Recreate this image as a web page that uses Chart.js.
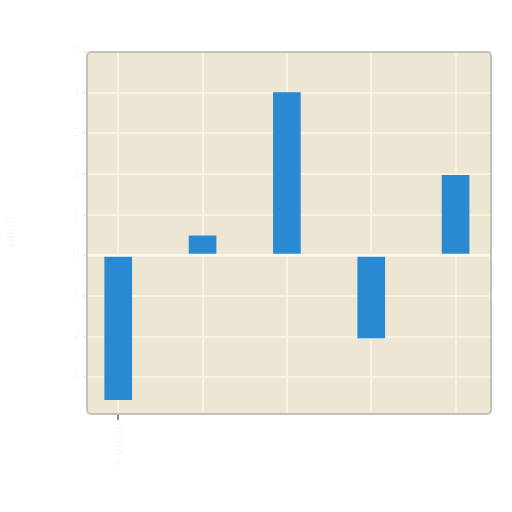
<!DOCTYPE html>
<html lang="en">
<head>
    <meta charset="UTF-8">
    <title>Bar chart</title>
    <script src="https://cdn.jsdelivr.net/npm/chart.js"></script>
    <style>
        html, body { margin: 0; padding: 0; background: #fff; }
        #wrap { width: 512px; height: 512px; }
    </style>
</head>
<body>
    <div id="wrap"><canvas id="chart" width="512" height="512"></canvas></div>

    <script>
        // Data
        const categories = ['A', 'B', 'C', 'D', 'E'];
        const values = [-3.55, 0.48, 4.0, -2.03, 1.97];
        const yTicks = [-3, -2, -1, 0, 1, 2, 3, 4, 5];

        const panelBg = '#ece6d3';
        const gridCol = '#f8f3e3';
        const barCol = '#2a89d3';
        const faintText = '#f7f7f7';

        // panel background + rounded border
        const panel = {
            id: 'panel',
            beforeDraw(chart) {
                const a = chart.chartArea, c = chart.ctx;
                c.save();
                c.beginPath();
                c.roundRect(a.left, a.top, a.right - a.left, a.bottom - a.top, 4);
                c.fillStyle = panelBg;
                c.fill();
                c.restore();
            },
            afterDatasetsDraw(chart) {
                const a = chart.chartArea, c = chart.ctx;
                const y0 = chart.scales.y.getPixelForValue(0);
                c.save();
                // zero line on top of bars
                c.strokeStyle = '#fbf8ee';
                c.lineWidth = 3;
                c.beginPath();
                c.moveTo(a.left, y0);
                c.lineTo(a.right, y0);
                c.stroke();
                c.beginPath();
                c.roundRect(a.left, a.top, a.right - a.left, a.bottom - a.top, 4);
                c.strokeStyle = '#c3c1bb';
                c.lineWidth = 2;
                c.stroke();
                c.restore();
            }
        };

        new Chart(document.getElementById('chart'), {
            type: 'bar',
            data: {
                datasets: [{
                    data: values.map((v, i) => ({ x: i, y: v })),
                    backgroundColor: barCol,
                    borderWidth: 0,
                    barThickness: 27
                }]
            },
            options: {
                responsive: false,
                animation: false,
                layout: { padding: { top: 52, right: 21, left: 0, bottom: 0 } },
                plugins: { legend: { display: false }, tooltip: { enabled: false } },
                scales: {
                    x: {
                        type: 'linear',
                        offset: false,
                        min: -0.37,
                        max: 4.42,
                        afterBuildTicks: s => { s.ticks = categories.map((c, i) => ({ value: i })); },
                        afterFit: s => { s.height = 98; },
                        border: { display: false },
                        grid: {
                            offset: false,
                            color: gridCol,
                            lineWidth: 2,
                            drawTicks: true,
                            tickLength: 6,
                            tickColor: ctx => ctx.index === 0 ? '#8a8a8a' : 'rgba(0,0,0,0)'
                        },
                        ticks: {
                            maxRotation: 90,
                            minRotation: 90,
                            color: faintText,
                            font: { family: 'DejaVu Sans', size: 11 },
                            callback: (v, i) => i === 0 ? categories[0] + ' group' : ''
                        }
                    },
                    y: {
                        min: -3.9,
                        max: 5,
                        afterBuildTicks: s => { s.ticks = yTicks.map(v => ({ value: v })); },
                        afterFit: s => { s.width = 87; },
                        border: { display: false },
                        grid: {
                            color: gridCol,
                            lineWidth: 2,
                            drawTicks: true,
                            tickLength: 4,
                            tickColor: '#ececec'
                        },
                        ticks: {
                            color: faintText,
                            font: { family: 'DejaVu Sans', size: 11 }
                        },
                        title: {
                            display: true,
                            text: 'value',
                            color: faintText,
                            font: { family: 'DejaVu Sans', size: 12 }
                        }
                    }
                }
            },
            plugins: [panel]
        });
    </script>
</body>
</html>
